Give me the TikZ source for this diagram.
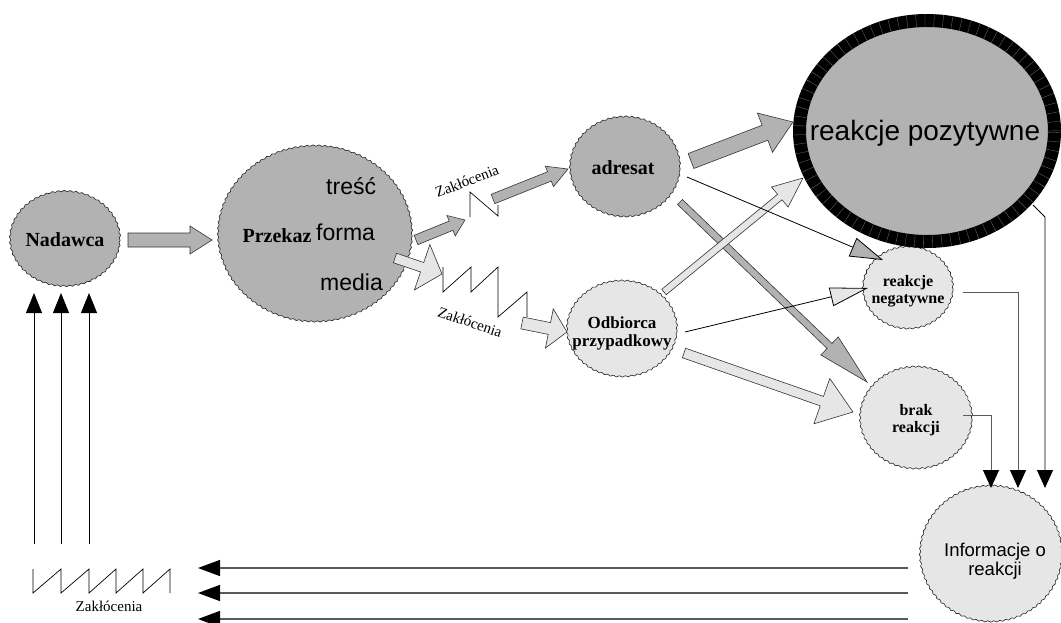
\documentclass[tikz,border=0pt]{standalone}
\usepackage{fontspec}
\setmainfont{Liberation Serif}
\newfontfamily\arialfont{Liberation Sans}
\usetikzlibrary{shapes.geometric,calc,arrows.meta,decorations.pathmorphing}

\definecolor{fillDark}{HTML}{B2B2B2}
\definecolor{fillLight}{HTML}{E6E6E6}
\definecolor{lineGrey}{HTML}{5A5A5A}

% block arrow: #1 style, #2 tail, #3 tip, #4 half shaft width, #5 half head width, #6 head length
\newcommand{\blockarrow}[6]{%
  \coordinate (ba-base) at ($(#3)!#6!(#2)$);
  \filldraw[blockline,#1] ($(#2)!#4!90:(#3)$) -- ($(ba-base)!#4!90:(#3)$)
    -- ($(ba-base)!#5!90:(#3)$) -- (#3) -- ($(ba-base)!#5!-90:(#3)$)
    -- ($(ba-base)!#4!-90:(#3)$) -- ($(#2)!#4!-90:(#3)$) -- cycle;
}

\tikzset{
  blob/.style={ellipse, draw=black!85, line width=0.6pt, inner sep=0pt,
    decorate, decoration={snake, amplitude=0.7pt, segment length=6pt}},
  darkblob/.style={blob, fill=fillDark},
  lightblob/.style={blob, fill=fillLight},
  blockline/.style={draw=black!80, line width=0.6pt},
  boldlbl/.style={font=\bfseries\fontsize{#1}{#1}\selectfont, align=center, inner sep=0pt},
  sanslbl/.style={font=\arialfont\fontsize{#1}{#1}\selectfont, align=center, inner sep=0pt},
  noiselbl/.style={font=\fontsize{15}{15}\selectfont, inner sep=0pt},
  zigzagline/.style={draw=black, line width=0.7pt},
  thinarrow/.style={draw=black, line width=0.8pt},
  feedline/.style={draw=lineGrey, line width=1.3pt, -{Triangle[length=22pt,width=16pt,color=black]}},
  uparrow/.style={draw=black, line width=0.8pt, -{Triangle[length=20pt,width=16pt,color=black]}},
  downarrow/.style={line width=0.9pt, -{Triangle[length=18pt,width=16pt,color=black]}},
}

\begin{document}
\begin{tikzpicture}[x=1pt,y=-1pt]
\fill[white] (0,0) rectangle (1061,622);
\useasboundingbox (0,0) rectangle (1061,622);

% ---------- main elements ----------
\node[darkblob, minimum width=110pt, minimum height=95pt] (nad) at (65,240) {};
\node[darkblob, minimum width=194pt, minimum height=176pt] (prz) at (315,235) {};
\node[darkblob, minimum width=110pt, minimum height=100pt] (adr) at (625,168) {};
\node[lightblob, minimum width=110pt, minimum height=96pt] (odb) at (622,330) {};
\node[lightblob, minimum width=90pt, minimum height=82pt] (neg) at (908,289) {};
\node[lightblob, minimum width=112pt, minimum height=102pt] (brak) at (916,419) {};
\node[lightblob, minimum width=142pt, minimum height=136pt] (info) at (991,555) {};

% positive reactions: thick black ring with fine ticks
\node[ellipse, draw=black, line width=13pt, fill=fillDark, inner sep=0pt,
      minimum width=255pt, minimum height=221pt] (poz) at (927,131) {};
\draw[black!55, line width=13pt, dash pattern=on 0.3pt off 8.7pt]
  (poz.center) ellipse [x radius=127.5pt, y radius=110.5pt];

% ---------- labels ----------
\node[boldlbl=20] (nadT) at (65,240) {Nadawca};
\node[boldlbl=20, anchor=base] (przT) at (277,242) {Przekaz};
\node[sanslbl=23, anchor=base west] (trescT) at (326,194) {treść};
\node[sanslbl=23, anchor=base west] (formaT) at (316,240) {forma};
\node[sanslbl=23, anchor=base west] (mediaT) at (320,290) {media};
\node[boldlbl=20, anchor=base] (adrT) at (623,174) {adresat};
\node[boldlbl=17] (odbT) at (622,333) {Odbiorca\\[1pt]przypadkowy};
\node[boldlbl=16] (negT) at (908,291) {reakcje\\[1pt]negatywne};
\node[boldlbl=16] (brakT) at (916,420) {brak\\[1pt]reakcji};
\node[sanslbl=28, anchor=base] (pozT) at (925,140) {reakcje pozytywne};
\node[sanslbl=18.5] (infoT) at (995,561) {Informacje o\\[1pt]reakcji};

\node[noiselbl, rotate=21] (z1T) at (467,181) {Zakłócenia};
\node[noiselbl, rotate=-19] (z2T) at (470,322) {Zakłócenia};
\node[noiselbl] (z3T) at (109,606) {Zakłócenia};

% ---------- noise zigzags ----------
\coordinate (zz1a) at (470,217);
\coordinate (zz1b) at (498,216);
\draw[zigzagline] (zz1a) -- (470,192) -- (zz1b) -- (498,205);
\draw[zigzagline] (443,267) -- (443,292) -- (471,267) -- (471,292) -- (498,267)
  -- (498,317) -- (527,292) -- (527,317);
\draw[zigzagline] (33,569) -- (33,593) -- (61,569) -- (61,593) -- (89,569) -- (89,593)
  -- (116,569) -- (116,593) -- (143,569) -- (143,593) -- (170,569) -- (170,593);

% ---------- block arrows ----------
\coordinate (a1s) at (128,240); \coordinate (a1e) at (212,240);
\coordinate (a2s) at (416,240); \coordinate (a2e) at (465,220);
\coordinate (a3s) at (493,199); \coordinate (a3e) at (568,169);
\coordinate (a4s) at (395,258); \coordinate (a4e) at (442,274);
\coordinate (a5s) at (522,323); \coordinate (a5e) at (567,332);
\coordinate (a6s) at (691,161); \coordinate (a6e) at (793,122);
\coordinate (a7s) at (680,202); \coordinate (a7e) at (867,382);
\coordinate (a8s) at (664,292); \coordinate (a8e) at (803,178);
\coordinate (a9s) at (684,353); \coordinate (a9e) at (853,412);

\blockarrow{fill=fillDark}{a1s}{a1e}{7pt}{14pt}{22pt}
\blockarrow{fill=fillDark}{a2s}{a2e}{5pt}{11pt}{15pt}
\blockarrow{fill=fillDark}{a3s}{a3e}{5pt}{11pt}{20pt}
\blockarrow{fill=fillLight}{a4s}{a4e}{5pt}{24pt}{21pt}
\blockarrow{fill=fillLight}{a5s}{a5e}{6pt}{20pt}{18pt}
\blockarrow{fill=fillDark}{a6s}{a6e}{8pt}{21pt}{30pt}
\blockarrow{fill=fillDark}{a7s}{a7e}{3.5pt}{12.5pt}{52pt}
\blockarrow{fill=fillLight}{a8s}{a8e}{3.5pt}{13pt}{30pt}
\blockarrow{fill=fillLight}{a9s}{a9e}{5pt}{24pt}{33pt}

% ---------- thin arrows to negative reactions ----------
\coordinate (t1s) at (687,177); \coordinate (t1e) at (883,260);
\coordinate (t2s) at (685,332); \coordinate (t2e) at (868,288);
\draw[thinarrow, -{Triangle[length=33pt,width=20pt,fill=fillDark]}] (t1s) -- (t1e);
\draw[thinarrow, -{Triangle[length=38pt,width=19pt,fill=fillLight]}] (t2s) -- (t2e);

% ---------- collection of reactions ----------
\coordinate (r1s) at (963,292); \coordinate (r1e) at (1018,488);
\coordinate (r2s) at (963,415); \coordinate (r2e) at (991,488);
\coordinate (r3s) at (1033,205); \coordinate (r3e) at (1045,488);
\draw[downarrow, draw=lineGrey] (r1s) -| (r1e);
\draw[downarrow, draw=lineGrey] (r2s) -| (r2e);
\draw[downarrow, draw=black] (r3s) -- (1045,217) -- (r3e);

% ---------- feedback to the sender ----------
\coordinate (f1s) at (908,568); \coordinate (f1e) at (198,568);
\coordinate (f2s) at (908,593); \coordinate (f2e) at (198,593);
\coordinate (f3s) at (908,619); \coordinate (f3e) at (198,619);
\draw[feedline] (f1s) -- (f1e);
\draw[feedline] (f2s) -- (f2e);
\draw[feedline] (f3s) -- (f3e);

\coordinate (u1s) at (34,544); \coordinate (u1e) at (34,293);
\coordinate (u2s) at (61,544); \coordinate (u2e) at (61,293);
\coordinate (u3s) at (89,544); \coordinate (u3e) at (89,293);
\draw[uparrow] (u1s) -- (u1e);
\draw[uparrow] (u2s) -- (u2e);
\draw[uparrow] (u3s) -- (u3e);
\end{tikzpicture}
\end{document}
